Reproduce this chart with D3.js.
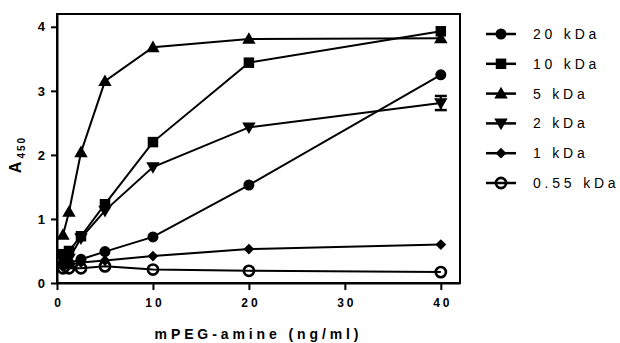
<!DOCTYPE html>
<html>
<head>
<meta charset="utf-8">
<script src="https://cdn.jsdelivr.net/npm/d3@7"></script>
<style>
  body { margin: 0; background: #fff; }
  svg { display: block; font-family: 'Liberation Sans', Arial, sans-serif; }
</style>
</head>
<body>
<div id="chart"></div>
<script>
// concentrations (ng/ml)
const conc = [0.625, 1.25, 2.5, 5, 10, 20, 40];
const seriesNames = ['20 kDa', '10 kDa', '5 kDa', '2 kDa', '1 kDa', '0.55 kDa'];
const kda20 = [0.30, 0.31, 0.37, 0.49, 0.72, 1.53, 3.25];
const kda10 = [0.45, 0.50, 0.73, 1.23, 2.20, 3.44, 3.93];
const kda5 = [0.75, 1.11, 2.04, 3.15, 3.68, 3.81, 3.82];
const kda2 = [0.35, 0.38, 0.70, 1.13, 1.81, 2.43, 2.81];
const kda1 = [0.25, 0.28, 0.32, 0.35, 0.42, 0.53, 0.60];
const kda055 = [0.23, 0.23, 0.23, 0.26, 0.21, 0.19, 0.17];
// visible error (SEM) on 2 kDa at 40 ng/ml
const kda2Err = [0, 0, 0, 0, 0, 0, 0.11];
const xTicks = [0, 10, 20, 30, 40];
const yTicks = [0, 1, 2, 3, 4];

const W = 620, H = 343;
const margin = {top: 14, right: 160, bottom: 60, left: 57};

const x = d3.scaleLinear().domain([0, 42]).range([margin.left, W - margin.right]);
const y = d3.scaleLinear().domain([0, 4.2]).range([H - margin.bottom, margin.top]);

const svg = d3.select('#chart').append('svg')
  .attr('width', W)
  .attr('height', H);

// frame
svg.append('rect')
  .attr('x', x(0)).attr('y', y(4.2))
  .attr('width', x(42) - x(0)).attr('height', y(0) - y(4.2))
  .attr('fill', 'none').attr('stroke', '#000').attr('stroke-width', 2);

const xAxis = svg.append('g')
  .attr('transform', `translate(0,${y(0)})`)
  .call(d3.axisBottom(x).tickValues(xTicks).tickFormat(d3.format('d'))
    .tickSize(7).tickPadding(8).tickSizeOuter(0));
const yAxis = svg.append('g')
  .attr('transform', `translate(${x(0)},0)`)
  .call(d3.axisLeft(y).tickValues(yTicks).tickFormat(d3.format('d'))
    .tickSize(6).tickPadding(6).tickSizeOuter(0));

[xAxis, yAxis].forEach(a => {
  a.select('.domain').attr('stroke-width', 2);
  a.selectAll('.tick line').attr('stroke-width', 2);
  a.selectAll('.tick text')
    .attr('font-family', "'Liberation Sans', Arial, sans-serif")
    .attr('font-size', 12)
    .attr('font-weight', 'bold')
    .attr('fill', '#000');
});
xAxis.selectAll('.tick text').attr('letter-spacing', 3).attr('dx', 1.5);
yAxis.selectAll('.tick text').attr('font-size', 13);

// axis titles
svg.append('text')
  .attr('x', (x(0) + x(42)) / 2)
  .attr('y', 339)
  .attr('text-anchor', 'middle')
  .attr('font-size', 14)
  .attr('font-weight', 'bold')
  .attr('letter-spacing', 3.9)
  .text('mPEG-amine (ng/ml)');

const yl = svg.append('text')
  .attr('transform', `translate(21,${(y(0) + y(4.2)) / 2 + 6}) rotate(-90)`)
  .attr('text-anchor', 'middle')
  .attr('font-size', 16)
  .attr('font-weight', 'bold');
yl.append('tspan').text('A');
yl.append('tspan').attr('dy', 4).attr('dx', 3).attr('font-size', 10)
  .attr('letter-spacing', 2).text('450');

// series
const seriesData = [kda20, kda10, kda5, kda2, kda1, kda055];
const shapes = [
  {type: d3.symbolCircle, size: 95, rot: 0, open: false},
  {type: d3.symbolSquare, size: 110, rot: 0, open: false},
  {type: d3.symbolTriangle, size: 78, rot: 0, open: false},
  {type: d3.symbolTriangle, size: 78, rot: 180, open: false},
  {type: d3.symbolSquare, size: 58, rot: 45, open: false},
  {type: d3.symbolCircle, size: 82, rot: 0, open: true}
];

const line = d3.line().x(d => x(d[0])).y(d => y(d[1]));

function drawMarker(g, s, cx, cy) {
  const tri = s.type === d3.symbolTriangle ? ' translate(0,1)' : '';
  const p = g.append('path')
    .attr('d', d3.symbol().type(s.type).size(s.size)())
    .attr('transform', `translate(${cx},${cy}) rotate(${s.rot})${tri}`);
  if (s.open) {
    p.attr('fill', 'none').attr('stroke', '#000').attr('stroke-width', 2.6);
  } else {
    p.attr('fill', '#000');
  }
}

const plot = svg.append('g');

// error bars
const errG = plot.append('g');
conc.forEach((c, i) => {
  const e = kda2Err[i];
  if (!e) return;
  const v = kda2[i];
  errG.append('line').attr('x1', x(c)).attr('x2', x(c))
    .attr('y1', y(v - e)).attr('y2', y(v + e))
    .attr('stroke', '#000').attr('stroke-width', 2);
  [v - e, v + e].forEach(t => {
    errG.append('line').attr('x1', x(c) - 6).attr('x2', x(c) + 6)
      .attr('y1', y(t)).attr('y2', y(t))
      .attr('stroke', '#000').attr('stroke-width', 2.5);
  });
});

seriesData.forEach((vals, k) => {
  const pts = conc.map((c, i) => [c, vals[i]]);
  const g = plot.append('g');
  g.append('path')
    .datum(pts)
    .attr('d', line)
    .attr('fill', 'none')
    .attr('stroke', '#000')
    .attr('stroke-width', 2);
  pts.forEach(p => drawMarker(g, shapes[k], x(p[0]), y(p[1])));
});

// legend
const legend = svg.append('g');
seriesNames.forEach((name, k) => {
  const ly = 34 + k * 29.8;
  const g = legend.append('g');
  g.append('rect')
    .attr('x', 486).attr('y', ly - 1.25)
    .attr('width', 30).attr('height', 2.5)
    .attr('fill', '#000');
  drawMarker(g, shapes[k], 501, ly);
  g.append('text')
    .attr('x', 533).attr('y', ly + 5)
    .attr('font-size', 14)
    .attr('letter-spacing', 3.8)
    .text(name);
});
</script>
</body>
</html>
